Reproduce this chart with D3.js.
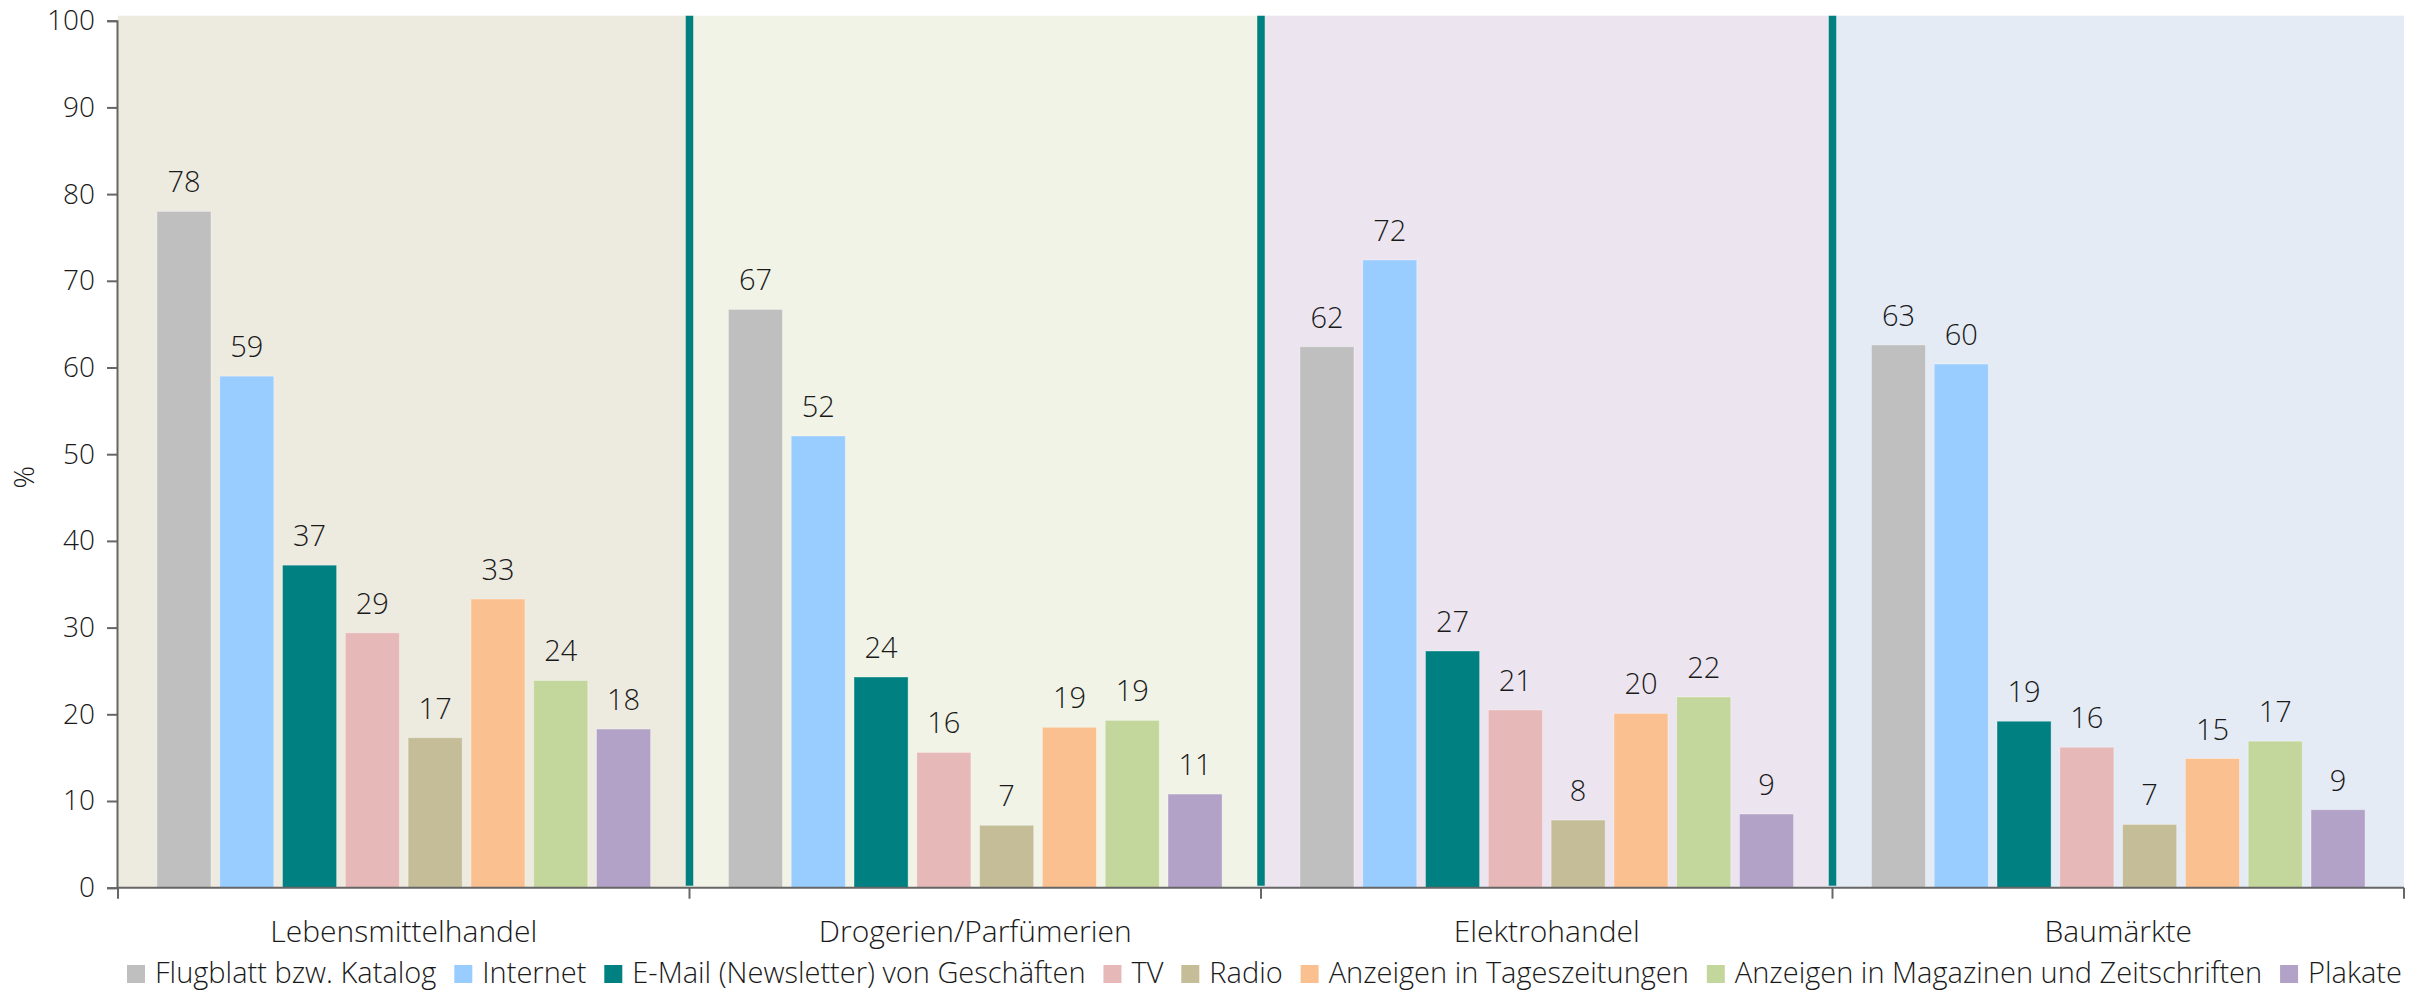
<!DOCTYPE html>
<html lang="de">
<head>
<meta charset="utf-8">
<script src="https://cdn.jsdelivr.net/npm/d3@7"></script>
<style>
  html, body { margin: 0; padding: 0; background: #fff; }
  svg { display: block; }
  text { font-family: "Open Sans", "Noto Sans", sans-serif; font-weight: 300; fill: #1a1a1a; }
</style>
</head>
<body>
<svg id="chart" width="2435" height="993"></svg>
<script>
// Retail sectors (x groups)
const categories = ["Lebensmittelhandel", "Drogerien/Parfümerien", "Elektrohandel", "Baumärkte"];

// Advertising channels (bars within each group)
const series = [
  "Flugblatt bzw. Katalog",
  "Internet",
  "E-Mail (Newsletter) von Geschäften",
  "TV",
  "Radio",
  "Anzeigen in Tageszeitungen",
  "Anzeigen in Magazinen und Zeitschriften",
  "Plakate"
];

// Share in %, one array per channel, ordered like categories
const flugblatt  = [78.0, 66.7, 62.4, 62.6];
const internet   = [59.0, 52.1, 72.4, 60.4];
const email      = [37.2, 24.3, 27.3, 19.2];
const tv         = [29.4, 15.6, 20.5, 16.2];
const radio      = [17.3,  7.2,  7.8,  7.3];
const tageszeit  = [33.3, 18.5, 20.1, 14.9];
const magazine   = [23.9, 19.3, 22.0, 16.9];
const plakate    = [18.3, 10.8,  8.5,  9.0];

const yTicks = [0, 10, 20, 30, 40, 50, 60, 70, 80, 90, 100];

const seriesValues = [flugblatt, internet, email, tv, radio, tageszeit, magazine, plakate];
const seriesColors = ["#bfbfbf", "#99ccff", "#008080", "#e6b8b7", "#c4bd97", "#fac090", "#c3d69b", "#b3a2c7"];
const panelColors  = ["#edeae0", "#f0f3e6", "#ece5f0", "#e4ebf5"];

const svg = d3.select("#chart");
const margin = { top: 20.7, right: 31, bottom: 105.3, left: 118 };
const W = +svg.attr("width"), H = +svg.attr("height");

const x0 = d3.scaleBand()
  .domain(categories)
  .range([margin.left, W - margin.right])
  .paddingInner(0).paddingOuter(0);

const x1 = d3.scaleBand()
  .domain(series)
  .range([0, x0.bandwidth()])
  .paddingInner(0.139)
  .paddingOuter(0.62);

const y = d3.scaleLinear().domain([0, 100]).range([H - margin.bottom, margin.top]);

// Tinted panel behind each sector
svg.append("g").selectAll("rect")
  .data(categories)
  .join("rect")
  .attr("x", d => x0(d))
  .attr("y", y(100) - 5)
  .attr("width", x0.bandwidth())
  .attr("height", y(0) - y(100) + 5)
  .attr("fill", (d, i) => panelColors[i]);

// Separators between sectors
svg.append("g").selectAll("line")
  .data(categories.slice(1))
  .join("line")
  .attr("x1", d => x0(d)).attr("x2", d => x0(d))
  .attr("y1", y(100) - 5).attr("y2", y(0) - 2)
  .attr("stroke", "#008080")
  .attr("stroke-width", 7.5);

// Bars
const groups = svg.append("g").selectAll("g")
  .data(categories)
  .join("g")
  .attr("transform", d => `translate(${x0(d)},0)`);

const cells = groups.selectAll("g.cell")
  .data((c, ci) => series.map((s, si) => ({ s, si, v: seriesValues[si][ci] })))
  .join("g").attr("class", "cell");

cells.append("rect")
  .attr("x", d => x1(d.s))
  .attr("y", d => y(d.v))
  .attr("width", x1.bandwidth())
  .attr("height", d => y(0) - y(d.v))
  .attr("fill", d => seriesColors[d.si])
  .attr("stroke", "rgba(255,255,255,0.35)")
  .attr("stroke-width", 1);

cells.append("text")
  .attr("x", d => x1(d.s) + x1.bandwidth() / 2)
  .attr("y", d => y(d.v) - 19)
  .attr("text-anchor", "middle")
  .attr("font-size", 29)
  .text(d => Math.round(d.v));

// Y axis
const yAxis = svg.append("g")
  .attr("transform", `translate(${margin.left - 1},0)`)
  .call(d3.axisLeft(y).tickValues(yTicks).tickSize(10).tickPadding(12));
yAxis.select(".domain").attr("stroke", "#666").attr("stroke-width", 2);
yAxis.selectAll(".tick line").attr("stroke", "#666").attr("stroke-width", 2);
yAxis.selectAll(".tick text").attr("font-size", 28).attr("font-family", null).attr("fill", "#1a1a1a");

// X axis with ticks at group boundaries
const xAxisG = svg.append("g").attr("transform", `translate(0,${y(0)})`);
xAxisG.append("line")
  .attr("x1", margin.left - 1).attr("x2", W - margin.right)
  .attr("stroke", "#666").attr("stroke-width", 2);
const bounds = categories.map(c => x0(c)).concat([x0(categories[categories.length - 1]) + x0.bandwidth()]);
xAxisG.selectAll("line.tk")
  .data(bounds)
  .join("line").attr("class", "tk")
  .attr("x1", d => d).attr("x2", d => d)
  .attr("y1", 0).attr("y2", 11)
  .attr("stroke", "#666").attr("stroke-width", 2);
xAxisG.selectAll("text")
  .data(categories)
  .join("text")
  .attr("x", d => x0(d) + x0.bandwidth() / 2)
  .attr("y", 44)
  .attr("dy", "0.35em")
  .attr("text-anchor", "middle")
  .attr("font-size", 30)
  .text(d => d);

// Y axis title
svg.append("text")
  .attr("transform", `translate(24,${(y(0) + y(100)) / 2 + 23}) rotate(-90)`)
  .attr("text-anchor", "middle")
  .attr("dy", "0.35em")
  .attr("font-size", 28)
  .text("%");

// Legend, spread across the width of the plot
const legend = svg.append("g").attr("transform", "translate(0,973)");
const items = legend.selectAll("g")
  .data(series)
  .join("g");
items.append("rect")
  .attr("width", 18).attr("height", 18)
  .attr("y", -8)
  .attr("fill", (d, i) => seriesColors[i]);
items.append("text")
  .attr("x", 28)
  .attr("dy", "0.35em")
  .attr("font-size", 29)
  .text(d => d);

const widths = [];
items.each(function () { widths.push(28 + this.querySelector("text").getComputedTextLength()); });
const legStart = 127, legEnd = 2402;
const gap = (legEnd - legStart - d3.sum(widths)) / (series.length - 1);
let cx = legStart;
items.attr("transform", (d, i) => { const t = `translate(${cx},0)`; cx += widths[i] + gap; return t; });
</script>
</body>
</html>
